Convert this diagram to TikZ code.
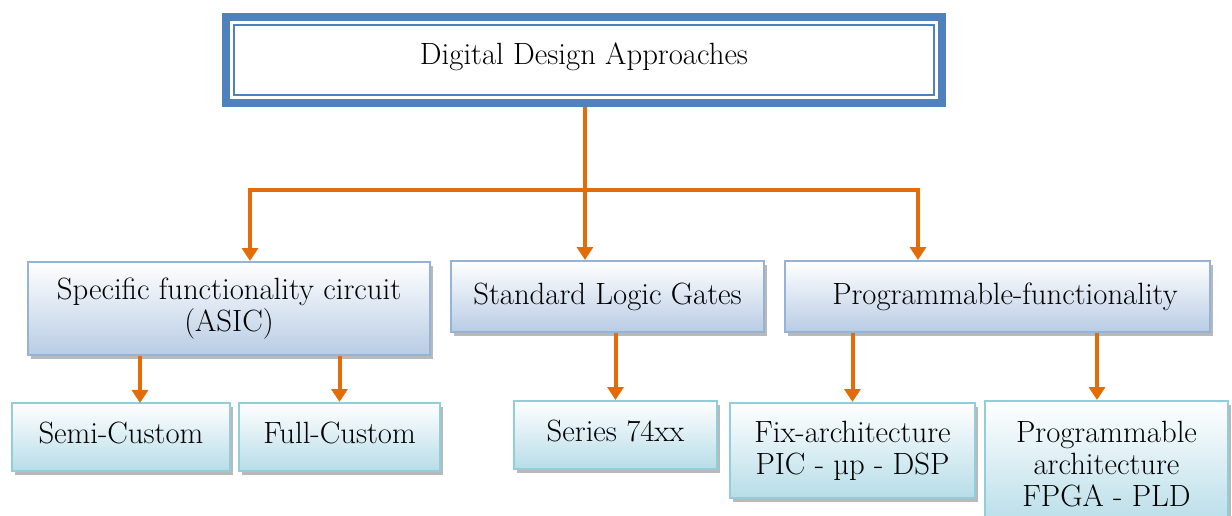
\documentclass[tikz,border=0pt]{standalone}
\usetikzlibrary{arrows.meta, shadows}
\definecolor{frameblue}{HTML}{4F81BD}
\definecolor{midline}{HTML}{95B3D7}
\definecolor{midfill}{HTML}{B8CCE4}
\definecolor{lowline}{HTML}{92CDDC}
\definecolor{lowfill}{HTML}{B7DDE8}
\definecolor{linkorange}{HTML}{E36C09}
\newcommand{\boxfont}{\fontsize{17.5}{18.2}\selectfont}

\begin{document}
\begin{tikzpicture}[x=0.02cm, y=-0.02cm,
    midbox/.style={draw=midline, line width=0.04cm, top color=white, bottom color=midfill,
        align=center, font=\boxfont, inner sep=0pt,
        drop shadow={shadow xshift=0.06cm, shadow yshift=-0.08cm, fill=gray!55, opacity=1}},
    lowbox/.style={midbox, draw=lowline, bottom color=lowfill},
    link/.style={draw=linkorange, line width=0.08cm},
    linkarrow/.style={link, -{Triangle[width=0.32cm, length=0.26cm]}}]
            \useasboundingbox (0,0) rectangle (1232,516);
            % top frame
            \node[draw=frameblue, line width=0.16cm, minimum width=14.32cm, minimum height=1.72cm,
                font=\fontsize{17.5}{18}\selectfont] (top) at (584,60) {\raisebox{0.24cm}{Digital Design Approaches}};
            \draw[frameblue, line width=0.04cm] (234,25) rectangle (934,95);
            % second row
            \node[midbox, minimum width=8.04cm, minimum height=1.86cm] (asic) at (229,308.5) {Specific functionality circuit\\(ASIC)};
            \node[midbox, minimum width=6.26cm, minimum height=1.42cm] (std) at (607.5,296.5) {\raisebox{0.1cm}{Standard Logic Gates}};
            \node[midbox, minimum width=8.5cm, minimum height=1.42cm] (prog) at (997.5,296.5) {\hspace{0.3cm}\raisebox{0.1cm}{Programmable-functionality}};
            % third row
            \node[lowbox, minimum width=4.36cm, minimum height=1.36cm] (semi) at (121,437) {\raisebox{0.16cm}{Semi-Custom}};
            \node[lowbox, minimum width=4.02cm, minimum height=1.36cm] (full) at (339.5,437) {\raisebox{0.16cm}{Full-Custom}};
            \node[lowbox, minimum width=4.06cm, minimum height=1.36cm] (series) at (615.5,435) {\raisebox{0.16cm}{Series 74xx}};
            \node[lowbox, minimum width=4.9cm, minimum height=1.9cm] (fix) at (852.5,450.5) {Fix-architecture\\PIC - µp - DSP};
            \node[lowbox, minimum width=4.86cm, minimum height=2.52cm] (parch) at (1106.5,464) {Programmable\\architecture\\FPGA - PLD};
            % connectors
            \coordinate (busL) at (250,190); \coordinate (busM) at (585,190); \coordinate (busR) at (918,190);
            \coordinate (semiIn) at (140,403); \coordinate (parchIn) at (1097,403);
            \draw[link] (busM |- top.south) -- (busM);
            \draw[link, line cap=rect] (busL) -- (busR);
            \draw[linkarrow] (busL) -- (busL |- asic.north);
            \draw[linkarrow] (busM) -- (busM |- std.north);
            \draw[linkarrow] (busR) -- (busR |- prog.north);
            \draw[linkarrow] (semiIn |- asic.south) -- (semiIn);
            \draw[linkarrow] (full.north |- asic.south) -- (full.north);
            \draw[linkarrow] (series.north |- std.south) -- (series.north);
            \draw[linkarrow] (fix.north |- prog.south) -- (fix.north);
            \draw[linkarrow] (parchIn |- prog.south) -- (parchIn |- parch.north);
        \end{tikzpicture}
\end{document}
